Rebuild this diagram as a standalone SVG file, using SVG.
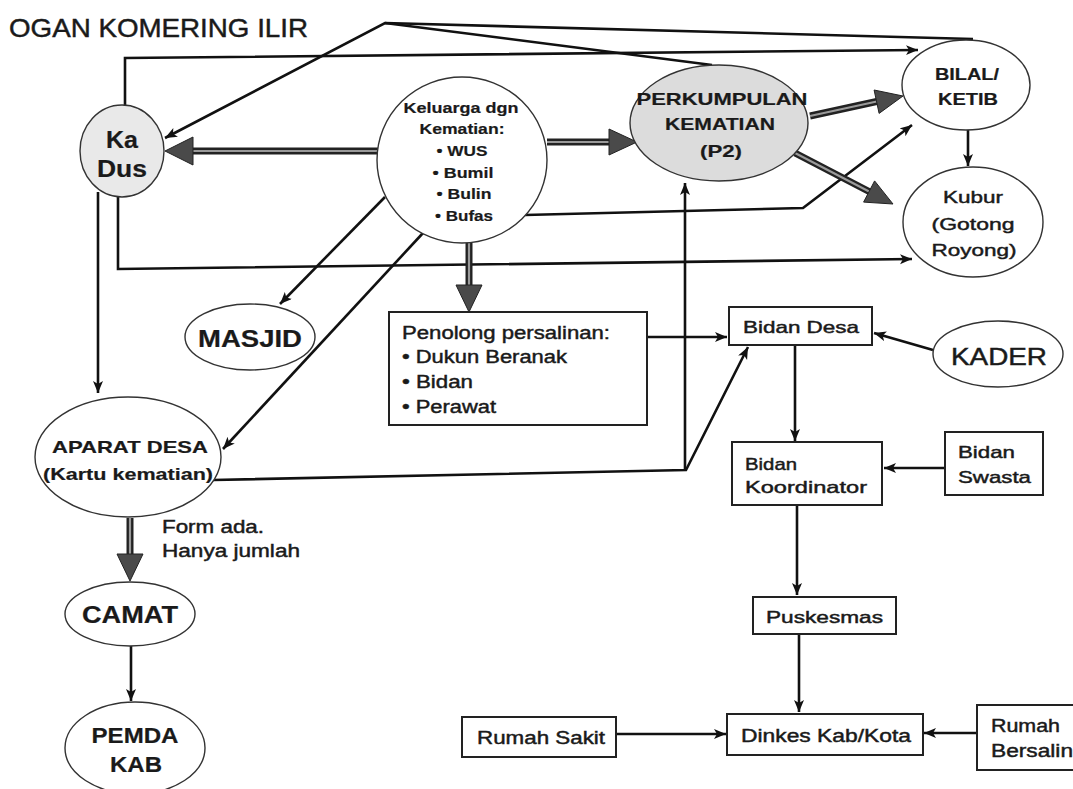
<svg xmlns="http://www.w3.org/2000/svg" width="1073" height="789" viewBox="0 0 1073 789">
<style>
text{font-family:"Liberation Sans",Arial,sans-serif;fill:#1a1a1a;stroke:#1a1a1a;stroke-width:0.45}
.b{font-weight:bold;stroke-width:0.2}
.el{fill:#fff;stroke:#333;stroke-width:1.4}
.gr{fill:#dcdcdc}
.lg{fill:#e9e9e9}
.bx{fill:#fff;stroke:#222;stroke-width:2}
.ln{fill:none;stroke:#111;stroke-width:2.6;stroke-linejoin:miter}
.ar{marker-end:url(#ah)}
.thk{stroke:#222;stroke-width:7}
.thkin{stroke:#9a9a9a;stroke-width:2.2}
.hd{fill:#4a4a4a;stroke:#222;stroke-width:1}
</style>
<defs>
<marker id="ah" markerUnits="userSpaceOnUse" markerWidth="13" markerHeight="11" refX="12" refY="5" orient="auto">
<path d="M0,0 L12,5 L0,10 L3,5 z" fill="#111"/>
</marker>
</defs>
<rect width="1073" height="789" fill="#fff"/>
<text x="9" y="37" font-size="25" textLength="299" lengthAdjust="spacingAndGlyphs">OGAN KOMERING ILIR</text>

<g id="connectors">
<polyline class="ln ar" points="973,39 385,23 165,138"/>
<line class="ln" x1="712" y1="65" x2="385" y2="23"/>
<polyline class="ln ar" points="125,106 125,58 918,50"/>
<polyline class="ln ar" points="525,215 803,208 912,125"/>
<polyline class="ln ar" points="118,196 118,269 912,259"/>
<line class="ln ar" x1="98" y1="192" x2="98" y2="393"/>
<line class="ln ar" x1="385" y1="197" x2="280" y2="304"/>
<line class="ln ar" x1="423" y1="233" x2="223" y2="449"/>
<polyline class="ln ar" points="213,480 686,470 748,347"/>
<line class="ln ar" x1="685" y1="470" x2="685" y2="183"/>
<line class="ln ar" x1="647" y1="337" x2="727" y2="337"/>
<line class="ln ar" x1="933" y1="350" x2="874" y2="333"/>
<line class="ln ar" x1="795" y1="345" x2="795" y2="441"/>
<line class="ln ar" x1="945" y1="468" x2="884" y2="468"/>
<line class="ln ar" x1="797" y1="505" x2="797" y2="595"/>
<line class="ln ar" x1="799" y1="634" x2="799" y2="712"/>
<line class="ln ar" x1="616" y1="734" x2="726" y2="734"/>
<line class="ln ar" x1="977" y1="733" x2="924" y2="733"/>
<line class="ln ar" x1="968" y1="130" x2="968" y2="166"/>
<line class="ln ar" x1="131" y1="646" x2="131" y2="701"/>
<line class="thk" x1="378" y1="151" x2="190" y2="151"/>
<line class="thkin" x1="378" y1="151" x2="190" y2="151"/>
<polygon class="hd" points="165,151 193,137 193,165"/>
<line class="thk" x1="547" y1="142" x2="612" y2="142"/>
<line class="thkin" x1="547" y1="142" x2="612" y2="142"/>
<polygon class="hd" points="637,142 609,129 609,155"/>
<line class="thk" x1="810" y1="116" x2="879" y2="101"/>
<line class="thkin" x1="810" y1="116" x2="879" y2="101"/>
<polygon class="hd" points="903,96 879.1,113.4 874.1,90"/>
<line class="thk" x1="795" y1="153" x2="871" y2="192.5"/>
<line class="thkin" x1="795" y1="153" x2="871" y2="192.5"/>
<polygon class="hd" points="893,204 863.6,202.1 874.6,180.9"/>
<line class="thk" x1="469" y1="243" x2="469" y2="288"/>
<line class="thkin" x1="469" y1="243" x2="469" y2="288"/>
<polygon class="hd" points="469,312 456,285 482,285"/>
<line class="thk" x1="130" y1="518" x2="130" y2="557"/>
<line class="thkin" x1="130" y1="518" x2="130" y2="557"/>
<polygon class="hd" points="130,581 117,554 143,554"/>
</g>

<g id="kadus">
<ellipse class="el lg" cx="122" cy="151" rx="42" ry="46"/>
<text class="b" x="122" y="148" font-size="23" text-anchor="middle" textLength="32" lengthAdjust="spacingAndGlyphs">Ka</text>
<text class="b" x="122" y="177" font-size="23" text-anchor="middle" textLength="50" lengthAdjust="spacingAndGlyphs">Dus</text>
</g>

<g id="keluarga">
<ellipse class="el" cx="462" cy="160" rx="85" ry="83"/>
<text class="b" x="461" y="113" font-size="15" text-anchor="middle" textLength="115" lengthAdjust="spacingAndGlyphs">Keluarga dgn</text>
<text class="b" x="462" y="134" font-size="15" text-anchor="middle" textLength="85" lengthAdjust="spacingAndGlyphs">Kematian:</text>
<text class="b" x="462" y="156" font-size="15" text-anchor="middle" textLength="51" lengthAdjust="spacingAndGlyphs">• WUS</text>
<text class="b" x="463" y="178" font-size="15" text-anchor="middle" textLength="61" lengthAdjust="spacingAndGlyphs">• Bumil</text>
<text class="b" x="464" y="199" font-size="15" text-anchor="middle" textLength="55" lengthAdjust="spacingAndGlyphs">• Bulin</text>
<text class="b" x="464" y="221" font-size="15" text-anchor="middle" textLength="58" lengthAdjust="spacingAndGlyphs">• Bufas</text>
</g>

<g id="perkumpulan">
<ellipse class="el gr" cx="719" cy="123" rx="89" ry="58"/>
<text class="b" x="722" y="105" font-size="17" text-anchor="middle" textLength="171" lengthAdjust="spacingAndGlyphs">PERKUMPULAN</text>
<text class="b" x="720" y="130" font-size="17" text-anchor="middle" textLength="110" lengthAdjust="spacingAndGlyphs">KEMATIAN</text>
<text class="b" x="721" y="157" font-size="17" text-anchor="middle" textLength="42" lengthAdjust="spacingAndGlyphs">(P2)</text>
</g>

<g id="bilal">
<ellipse class="el" cx="966" cy="85" rx="64" ry="45"/>
<text class="b" x="967" y="80" font-size="16" text-anchor="middle" textLength="64" lengthAdjust="spacingAndGlyphs">BILAL/</text>
<text class="b" x="968" y="105" font-size="16" text-anchor="middle" textLength="60" lengthAdjust="spacingAndGlyphs">KETIB</text>
</g>

<g id="kubur">
<ellipse class="el" cx="973" cy="222" rx="70" ry="55"/>
<text x="973" y="203" font-size="17" text-anchor="middle" textLength="60" lengthAdjust="spacingAndGlyphs">Kubur</text>
<text x="973" y="230" font-size="17" text-anchor="middle" textLength="83" lengthAdjust="spacingAndGlyphs">(Gotong</text>
<text x="974" y="256" font-size="17" text-anchor="middle" textLength="85" lengthAdjust="spacingAndGlyphs">Royong)</text>
</g>

<g id="masjid">
<ellipse class="el" cx="250" cy="337" rx="65" ry="33"/>
<text class="b" x="250" y="347" font-size="23" text-anchor="middle" textLength="104" lengthAdjust="spacingAndGlyphs">MASJID</text>
</g>

<g id="aparat">
<ellipse class="el" cx="128" cy="457" rx="93" ry="60"/>
<text class="b" x="130" y="453" font-size="17" text-anchor="middle" textLength="156" lengthAdjust="spacingAndGlyphs">APARAT DESA</text>
<text class="b" x="128" y="480" font-size="17" text-anchor="middle" textLength="170" lengthAdjust="spacingAndGlyphs">(Kartu kematian)</text>
</g>

<g id="label-form">
<text x="162" y="533" font-size="18" textLength="102" lengthAdjust="spacingAndGlyphs">Form ada.</text>
<text x="162" y="557" font-size="18" textLength="138" lengthAdjust="spacingAndGlyphs">Hanya jumlah</text>
</g>

<g id="camat">
<ellipse class="el" cx="130" cy="614" rx="65" ry="32"/>
<text class="b" x="130" y="623" font-size="23" text-anchor="middle" textLength="96" lengthAdjust="spacingAndGlyphs">CAMAT</text>
</g>

<g id="pemda">
<ellipse class="el" cx="135" cy="748" rx="70" ry="46"/>
<text class="b" x="135" y="743" font-size="22" text-anchor="middle" textLength="87" lengthAdjust="spacingAndGlyphs">PEMDA</text>
<text class="b" x="136" y="772" font-size="22" text-anchor="middle" textLength="52" lengthAdjust="spacingAndGlyphs">KAB</text>
</g>

<g id="penolong">
<rect class="bx" x="389" y="312" width="258" height="113"/>
<text x="402" y="339" font-size="18" textLength="208" lengthAdjust="spacingAndGlyphs">Penolong persalinan:</text>
<text x="402" y="363" font-size="18" textLength="165" lengthAdjust="spacingAndGlyphs">• Dukun Beranak</text>
<text x="402" y="388" font-size="18" textLength="71" lengthAdjust="spacingAndGlyphs">• Bidan</text>
<text x="402" y="413" font-size="18" textLength="94" lengthAdjust="spacingAndGlyphs">• Perawat</text>
</g>

<g id="bidan-desa">
<rect class="bx" x="729" y="307" width="143" height="38"/>
<text x="743" y="333" font-size="17" textLength="116" lengthAdjust="spacingAndGlyphs">Bidan Desa</text>
</g>

<g id="kader">
<ellipse class="el" cx="998" cy="354" rx="65" ry="33"/>
<text x="999" y="365" font-size="23" text-anchor="middle" textLength="96" lengthAdjust="spacingAndGlyphs">KADER</text>
</g>

<g id="bidan-koordinator">
<rect class="bx" x="732" y="442" width="150" height="63"/>
<text x="745" y="470" font-size="17" textLength="52" lengthAdjust="spacingAndGlyphs">Bidan</text>
<text x="745" y="493" font-size="17" textLength="122" lengthAdjust="spacingAndGlyphs">Koordinator</text>
</g>

<g id="bidan-swasta">
<rect class="bx" x="945" y="432" width="98" height="63"/>
<text x="958" y="458" font-size="17" textLength="57" lengthAdjust="spacingAndGlyphs">Bidan</text>
<text x="958" y="483" font-size="17" textLength="73" lengthAdjust="spacingAndGlyphs">Swasta</text>
</g>

<g id="puskesmas">
<rect class="bx" x="753" y="597" width="143" height="37"/>
<text x="766" y="623" font-size="17" textLength="117" lengthAdjust="spacingAndGlyphs">Puskesmas</text>
</g>

<g id="dinkes">
<rect class="bx" x="727" y="714" width="196" height="41"/>
<text x="741" y="742" font-size="18" textLength="170" lengthAdjust="spacingAndGlyphs">Dinkes Kab/Kota</text>
</g>

<g id="rumah-sakit">
<rect class="bx" x="462" y="717" width="154" height="40"/>
<text x="477" y="744" font-size="18" textLength="128" lengthAdjust="spacingAndGlyphs">Rumah Sakit</text>
</g>

<g id="rumah-bersalin">
<rect class="bx" x="977" y="705" width="120" height="65"/>
<text x="991" y="732" font-size="18" textLength="69" lengthAdjust="spacingAndGlyphs">Rumah</text>
<text x="991" y="757" font-size="18" textLength="82" lengthAdjust="spacingAndGlyphs">Bersalin</text>
</g>
</svg>
